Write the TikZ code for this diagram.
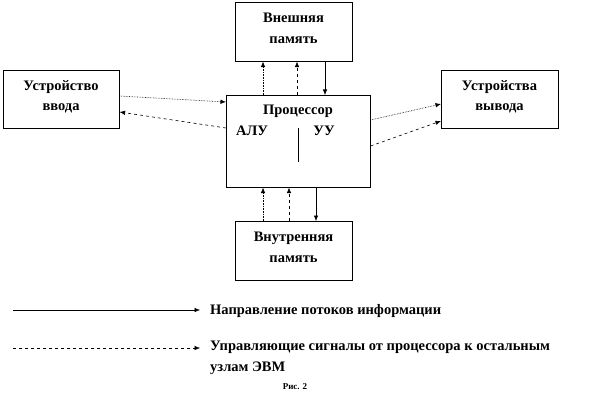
\documentclass[tikz,border=0pt]{standalone}
\usepackage{fontspec}
\setmainfont{Liberation Serif}
\usetikzlibrary{arrows.meta}
\begin{document}
\begin{tikzpicture}[x=1pt,y=-1pt,
  box/.style={draw,line width=0.6pt,inner sep=0pt,anchor=north west},
  lbl/.style={inner sep=0pt,font=\bfseries\fontsize{14.5}{20.5}\selectfont},
  tip/.style={-{Latex[length=5.5pt,width=4.5pt]}},
  info/.style={tip,densely dotted,line width=0.6pt},
  ctrl/.style={tip,dashed,dash pattern=on 3pt off 3pt,line width=0.6pt},
  data/.style={tip,line width=0.6pt}]
\useasboundingbox (0,0) rectangle (596,401);
% boxes
\node[box,minimum width=117pt,minimum height=59pt] (ext) at (235,2) {};
\node[lbl,align=center] (extT) at (293.5,28.5) {Внешняя\\память};
\node[box,minimum width=116pt,minimum height=58pt] (in) at (3,70) {};
\node[lbl,align=center] (inT) at (61,97) {Устройство\\ввода};
\node[box,minimum width=117pt,minimum height=58pt] (out) at (441,70) {};
\node[lbl,align=center] (outT) at (499.5,97) {Устройства\\вывода};
\node[box,minimum width=144pt,minimum height=92pt] (cpu) at (226,95) {};
\node[lbl] (cpuT) at (298,111) {Процессор};
\node[lbl] (alu) at (252,131) {АЛУ};
\node[lbl] (uu) at (324,131) {УУ};
\coordinate (vt) at (298,128);
\coordinate (vb) at (298,162);
\draw[line width=0.6pt] (vt) -- (vb);
\node[box,minimum width=117pt,minimum height=59pt] (intm) at (235,221) {};
\node[lbl,align=center] (intT) at (293.5,247.5) {Внутренняя\\память};
% top connectors
\draw[info] (cpu.north -| 263,0) -- (ext.south -| 263,0);
\draw[ctrl] (cpu.north -| 297,0) -- (ext.south -| 297,0);
\draw[data] (ext.south -| 325,0) -- (cpu.north -| 325,0);
% bottom connectors
\draw[info] (intm.north -| 263,0) -- (cpu.south -| 263,0);
\draw[ctrl] (intm.north -| 289,0) -- (cpu.south -| 289,0);
\draw[data] (cpu.south -| 316,0) -- (intm.north -| 316,0);
% input
\draw[info] (in.east |- 0,96) -- (cpu.west |- 0,102);
\draw[ctrl] (cpu.west |- 0,128) -- (in.east |- 0,112);
% output
\draw[info] (cpu.east |- 0,120) -- (out.west |- 0,104);
\draw[ctrl] (cpu.east |- 0,146) -- (out.west |- 0,121);
% legend
\coordinate (l1a) at (13,310);
\coordinate (l1b) at (200,310);
\coordinate (l2a) at (13,348);
\coordinate (l2b) at (200,348);
\draw[data,line width=0.5pt] (l1a) -- (l1b);
\draw[ctrl,line width=0.5pt] (l2a) -- (l2b);
\node[lbl,anchor=west] (t1) at (210,311) {Направление потоков информации};
\node[lbl,anchor=north west,align=left] (t2) at (210,341) {Управляющие сигналы от процессора к остальным\\узлам ЭВМ};
\node[inner sep=0pt,font=\bfseries\fontsize{9}{11}\selectfont] (fig) at (295,387) {Рис. 2};
\end{tikzpicture}
\end{document}
